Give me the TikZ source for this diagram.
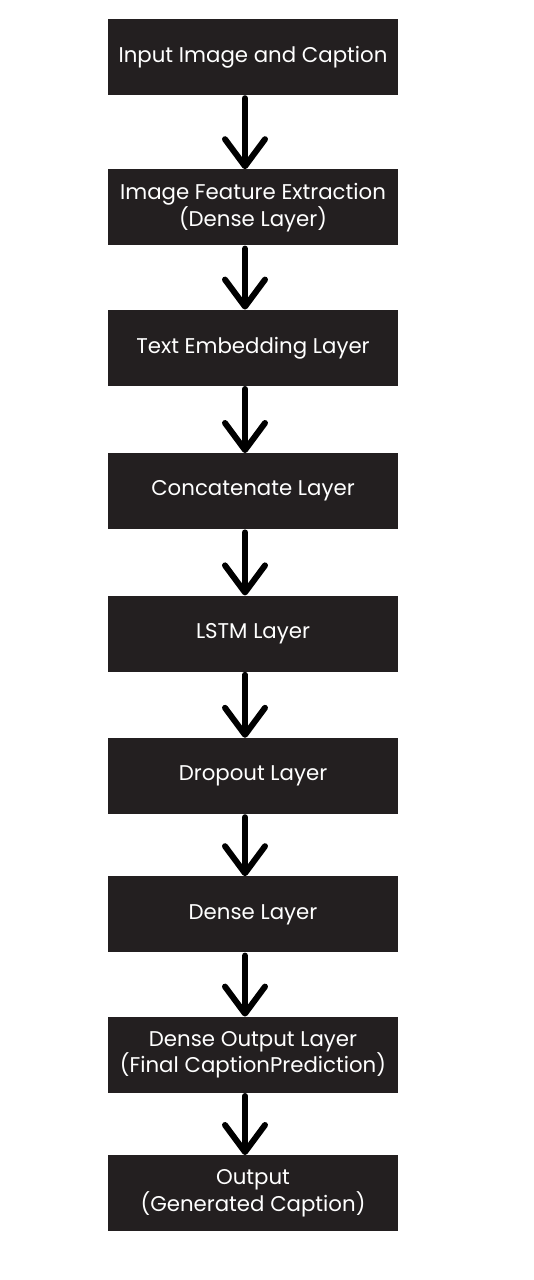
\documentclass[tikz,border=0pt]{standalone}
\usepackage{fontspec}
\setmainfont{Poppins}
\usepackage{tikz}
\usetikzlibrary{arrows.meta, positioning}

\begin{document}
\begin{tikzpicture}[
        x=1pt, y=1pt,
        layer/.style={draw=none, rectangle, fill=boxcolor, text=white,
            minimum width=290pt, minimum height=76pt, align=center,
            font=\fontsize{21.3}{26.5}\selectfont},
        flow/.style={line width=6pt, line cap=round,
            -{Straight Barb[length=27pt, width=40pt, round]}}
    ]
    % Цвета
    \definecolor{boxcolor}{RGB}{35,31,32}

    \useasboundingbox (0,0) rectangle (533,-1280);

    % Слои
    \node[layer] (input) at (253,-57) {Input Image and Caption};
    \node[layer, below=74pt of input] (feat) {Image Feature Extraction\\(Dense Layer)};
    \node[layer, below=64pt of feat] (embed) {Text Embedding Layer};
    \node[layer, below=67pt of embed] (concat) {Concatenate Layer};
    \node[layer, below=66pt of concat] (lstm) {LSTM Layer};
    \node[layer, below=66pt of lstm] (drop) {Dropout Layer};
    \node[layer, below=62pt of drop] (dense) {Dense Layer};
    \node[layer, below=64pt of dense] (final) {Dense Output Layer\\(Final CaptionPrediction)};
    \node[layer, below=62pt of final] (out) {Output\\(Generated Caption)};

    % Стрелки
    \draw[flow] ([xshift=-8pt, yshift=-3pt]input.south) -- ([xshift=-8pt]feat.north);
    \draw[flow] ([xshift=-8pt, yshift=-3pt]feat.south) -- ([xshift=-8pt]embed.north);
    \draw[flow] ([xshift=-8pt, yshift=-3pt]embed.south) -- ([xshift=-8pt]concat.north);
    \draw[flow] ([xshift=-8pt, yshift=-3pt]concat.south) -- ([xshift=-8pt]lstm.north);
    \draw[flow] ([xshift=-8pt, yshift=-3pt]lstm.south) -- ([xshift=-8pt]drop.north);
    \draw[flow] ([xshift=-8pt, yshift=-3pt]drop.south) -- ([xshift=-8pt]dense.north);
    \draw[flow] ([xshift=-8pt, yshift=-3pt]dense.south) -- ([xshift=-8pt]final.north);
    \draw[flow] ([xshift=-8pt, yshift=-3pt]final.south) -- ([xshift=-8pt]out.north);

\end{tikzpicture}
\end{document}
